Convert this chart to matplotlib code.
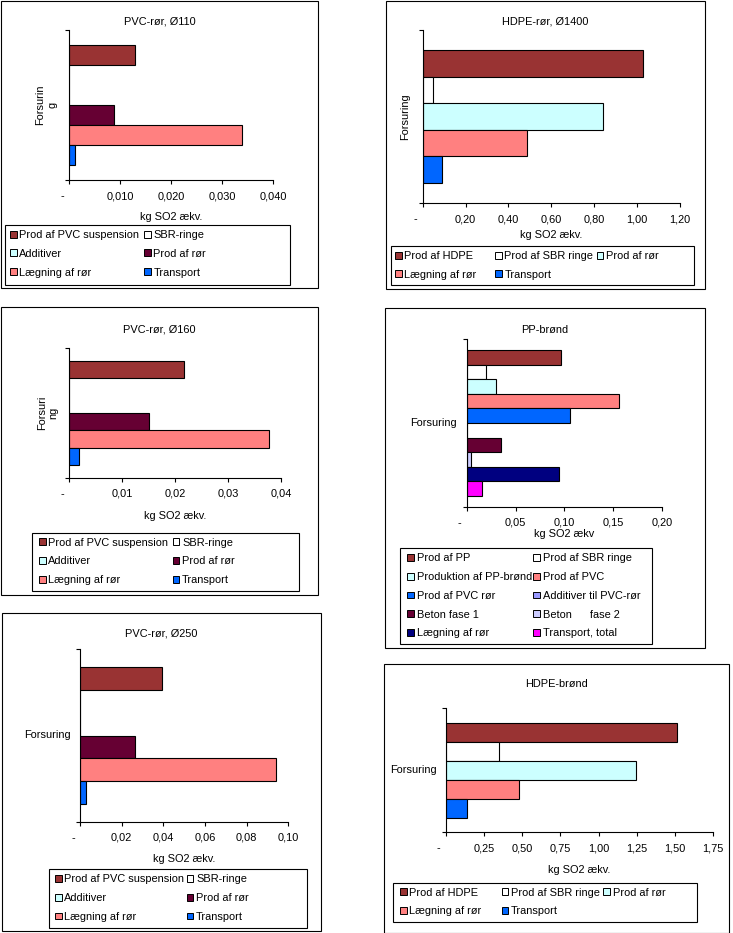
import numpy as np
import matplotlib
matplotlib.use("Agg")
import matplotlib.pyplot as plt
import matplotlib.transforms as mtransforms
from matplotlib.patches import Rectangle
from matplotlib.ticker import FuncFormatter

plt.rcParams['font.family'] = ['Liberation Sans', 'DejaVu Sans']
plt.rcParams['font.size'] = 7.9

W, H = 733, 933

# data
pvc_labels = ["Prod af PVC suspension", "SBR-ringe", "Additiver", "Prod af rør",
              "Lægning af rør", "Transport"]
pvc_colors = ["#993333", "#FFFFFF", "#CCFFFF", "#660033", "#FF8080", "#0066FF"]
pvc110_values = [0.0129, 0.0, 0.0, 0.0088, 0.0340, 0.0011]
pvc160_values = [0.0217, 0.0, 0.0, 0.0150, 0.0378, 0.0018]
pvc250_values = [0.0392, 0.0, 0.0, 0.0266, 0.0942, 0.0030]

hdpe_labels = ["Prod af HDPE", "Prod af SBR ringe", "Prod af rør", "Lægning af rør", "Transport"]
hdpe_colors = ["#993333", "#FFFFFF", "#CCFFFF", "#FF8080", "#0066FF"]
hdpe1400_values = [1.026, 0.050, 0.839, 0.485, 0.092]
hdpe_brond_values = [1.515, 0.349, 1.242, 0.481, 0.137]

pp_labels = ["Prod af PP", "Prod af SBR ringe", "Produktion af PP-brønd", "Prod af PVC",
             "Prod af PVC rør", "Additiver til PVC-rør", "Beton fase 1", "Beton      fase 2",
             "Lægning af rør", "Transport, total"]
pp_colors = ["#993333", "#FFFFFF", "#CCFFFF", "#FF8080", "#0066FF",
             "#9999FF", "#660033", "#CCCCFF", "#000080", "#FF00FF"]
pp_values = [0.0963, 0.0198, 0.0303, 0.1563, 0.1061, 0.0, 0.0348, 0.0047, 0.0942, 0.0154]

category = "Forsuring"

# layout in pixels: panel box, plot area, legend box, legend columns
panels = [
    dict(title="PVC-rør, Ø110", labels=pvc_labels, colors=pvc_colors, values=pvc110_values,
         box=(1, 1, 318, 288), ax=(69, 30, 273, 180), xmax=0.04, step=0.01, dec=3,
         cat="Forsurin\ng", rot=90, catpad=12, title_y=21.5, xlab="kg SO2 ækv.", xlab_off=37,
         leg=(5, 225, 290, 285), ncol=2, cols=(10, 144)),
    dict(title="HDPE-rør, Ø1400", labels=hdpe_labels, colors=hdpe_colors, values=hdpe1400_values,
         box=(386, 1, 705, 289), ax=(422.7, 30, 680, 203), xmax=1.2, step=0.2, dec=2,
         cat=category, rot=90, catpad=13, title_y=21, xlab="kg SO2 ækv.", xlab_off=32,
         leg=(391, 246, 694, 285), ncol=3, cols=(395, 495, 596.7)),
    dict(title="PVC-rør, Ø160", labels=pvc_labels, colors=pvc_colors, values=pvc160_values,
         box=(1, 307, 318, 595), ax=(69.3, 348.3, 281, 477.7), xmax=0.04, step=0.01, dec=2,
         cat="Forsuri\nng", rot=90, catpad=11, title_y=329, xlab="kg SO2 ækv.", xlab_off=38,
         leg=(32, 532.7, 299, 591), ncol=2, cols=(39, 172.7)),
    dict(title="PP-brønd", labels=pp_labels, colors=pp_colors, values=pp_values,
         box=(385.3, 308, 705, 648.3), ax=(466.7, 339.3, 662, 506.7), xmax=0.2, step=0.05, dec=2,
         cat=category, rot=0, catpad=10, title_y=330, xlab="kg SO2 ækv", xlab_off=27.6,
         leg=(400, 548.3, 651.7, 644), ncol=2, cols=(407.3, 533.3)),
    dict(title="PVC-rør, Ø250", labels=pvc_labels, colors=pvc_colors, values=pvc250_values,
         box=(1.7, 613, 321, 930.7), ax=(80, 649.3, 288.3, 821.7), xmax=0.1, step=0.02, dec=2,
         cat=category, rot=0, catpad=9, title_y=634, xlab="kg SO2 ækv.", xlab_off=37.3,
         leg=(48.7, 869.3, 307.3, 928.3), ncol=2, cols=(55, 186.7)),
    dict(title="HDPE-brønd", labels=hdpe_labels, colors=hdpe_colors, values=hdpe_brond_values,
         box=(384.3, 664.3, 729, 932.7), ax=(445.7, 708.3, 713.3, 832.3), xmax=1.75, step=0.25, dec=2,
         cat=category, rot=0, catpad=9, title_y=684, xlab="kg SO2 ækv.", xlab_off=37.7,
         leg=(393.3, 882.7, 696.7, 921.7), ncol=3, cols=(400, 501.7, 603.3)),
]

fig = plt.figure(figsize=(W / 100, H / 100), dpi=100)


def fx(x):
    return x / W


def fy(y):
    return 1 - y / H


def frame(x0, y0, x1, y1):
    fig.add_artist(Rectangle((fx(x0), fy(y1)), fx(x1 - x0), (y1 - y0) / H, fill=False,
                             edgecolor='black', lw=0.8, transform=fig.transFigure))


for p in panels:
    frame(*p['box'])
    frame(*p['leg'])
    x0, y0, x1, y1 = p['ax']
    ax = fig.add_axes([fx(x0), fy(y1), fx(x1 - x0), (y1 - y0) / H])
    n = len(p['values'])
    pos = np.arange(n)
    ax.barh(pos, p['values'], height=1.0, color=p['colors'], edgecolor='black', linewidth=0.8)
    ax.set_ylim(n + 0.25, -1.25)
    ax.set_xlim(0, p['xmax'])
    for s in ['top', 'right']:
        ax.spines[s].set_visible(False)
    for s in ['left', 'bottom']:
        ax.spines[s].set_linewidth(0.8)

    ticks = np.round(np.arange(0, p['xmax'] + p['step'] / 2, p['step']), 4)
    ax.set_xticks(ticks)
    dec = p['dec']
    ax.xaxis.set_major_formatter(FuncFormatter(
        lambda v, _, d=dec: "-" if abs(v) < 1e-9 else f"{v:.{d}f}".replace(".", ",")))
    ax.tick_params(axis='x', direction='out', length=3, width=0.8, pad=5)
    # Excel shows the zero as a dash shifted to the left
    lab0 = ax.xaxis.get_major_ticks()[0].label1
    lab0.set_transform(lab0.get_transform() +
                       mtransforms.ScaledTranslation(-7 / 100, 0, fig.dpi_scale_trans))

    ax.set_yticks([-1.25, n + 0.25], labels=["", ""])
    ax.tick_params(axis='y', which='major', direction='out', length=3, width=0.8)
    ax.set_yticks([(n - 1) / 2], labels=[p['cat']], minor=True)
    ax.tick_params(axis='y', which='minor', length=0, pad=p['catpad'] * 0.72)
    for t in ax.get_yticklabels(minor=True):
        t.set_rotation(p['rot'])
        t.set_va('center')
        t.set_multialignment('center')

    ax.set_xlabel(p['xlab'], va='center')
    ax.xaxis.set_label_coords(0.5, -p['xlab_off'] / (y1 - y0))

    bx0, by0, bx1, by1 = p['box']
    fig.text(fx((bx0 + bx1) / 2), fy(p['title_y']), p['title'], ha='center', va='center')

    handles = [Rectangle((0, 0), 1, 1, facecolor=c, edgecolor='black', lw=0.7) for c in p['colors']]
    lx0, ly0, lx1, ly1 = p['leg']
    for c in range(p['ncol']):
        fig.legend(handles[c::p['ncol']], p['labels'][c::p['ncol']], loc='upper left',
                   bbox_to_anchor=(fx(p['cols'][c]), fy(ly0 + 5)), bbox_transform=fig.transFigure,
                   frameon=False, handlelength=0.6, handleheight=0.6, handletextpad=0.25,
                   labelspacing=0.8, borderpad=0, borderaxespad=0)

fig.savefig("out.png", dpi=100)
